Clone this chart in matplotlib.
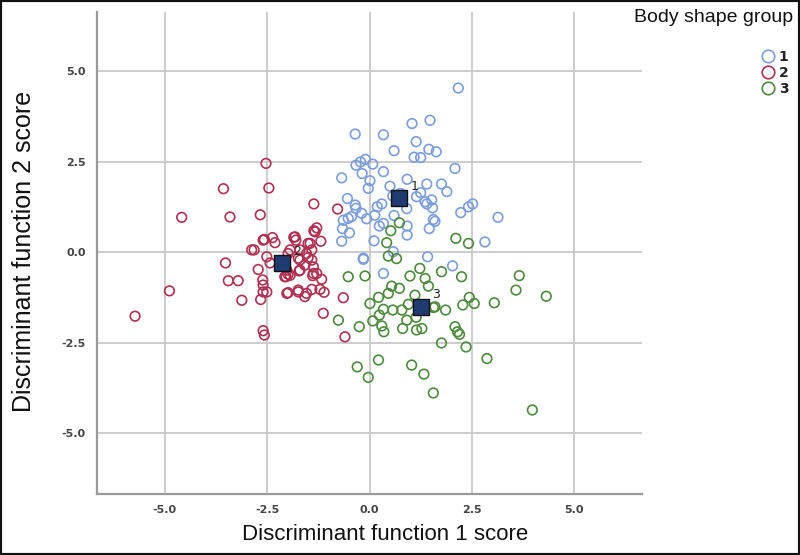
import matplotlib
matplotlib.use("Agg")
import matplotlib.pyplot as plt
from matplotlib.patches import Rectangle
from matplotlib.lines import Line2D

# discriminant scores
g1_x = [2.17, 1.04, 1.48, -0.35, 0.34, 1.14, 0.60, 1.45, 1.63, 1.09, 1.25, -0.33, -0.22, -0.10,
        0.08, -0.18, 0.34, 2.09, -0.68, 0.01, -0.03, 0.50, 0.92, 1.40, 1.76, 1.89, -0.54, -0.35,
        -0.33, 0.19, 0.30, -0.19, -0.44, -0.52, -0.64, -0.07, 0.13, 0.57, 0.75, 1.15, 1.25, 1.36,
        1.52, 1.40, 1.54, 0.91, 0.60, 1.56, 1.60, 2.23, 2.42, 2.52, 3.14, 0.24, 0.34, 0.92, 1.46,
        -0.66, -0.49, -0.68, 0.11, 0.92, 2.82, -0.15, 1.42, 0.58, 0.34, 2.03, -0.15]
g1_y = [4.53, 3.55, 3.64, 3.26, 3.24, 3.05, 2.80, 2.84, 2.77, 2.62, 2.61, 2.40, 2.49, 2.56,
        2.43, 2.17, 2.22, 2.31, 2.05, 1.97, 1.76, 1.82, 2.01, 1.88, 1.88, 1.67, 1.48, 1.30,
        1.21, 1.25, 1.33, 1.07, 0.98, 0.93, 0.88, 0.92, 1.02, 1.55, 1.62, 1.53, 1.64, 1.39,
        1.44, 1.33, 1.22, 1.20, 1.01, 0.90, 0.85, 1.09, 1.25, 1.33, 0.96, 0.72, 0.79, 0.72, 0.65,
        0.65, 0.53, 0.30, 0.31, 0.47, 0.28, -0.17, -0.13, 0.01, -0.59, -0.38, -0.20]

g2_x = [-2.53, -3.57, -2.46, -4.59, -3.41, -2.67, -1.36, -0.78, -1.36, -1.29, -2.57, -2.37,
        -2.31, -1.85, -1.80, -1.50, -1.19, -2.88, -2.82, -2.51, -2.43, -1.94, -1.74, -1.50,
        -1.41, -1.58, -1.37, -3.52, -2.72, -2.04, -1.99, -1.72, -1.39, -1.29, -1.17, -3.45,
        -3.21, -2.61, -2.60, -2.60, -2.66, -3.12, -4.89, -2.02, -1.74, -1.58, -1.41, -1.21,
        -1.11, -0.64, -1.13, -5.73, -2.60, -2.57, -0.60, -2.60, -1.82, -1.45, -1.33, -1.99,
        -1.70, -1.70, -1.54, -1.41, -2.02, -1.94, -1.70, -1.37, -2.07, -2.51, -1.99, -1.74, -1.54]
g2_y = [2.45, 1.75, 1.77, 0.96, 0.97, 1.03, 1.33, 1.19, 0.59, 0.67, 0.35, 0.40,
        0.26, 0.41, 0.33, 0.24, 0.30, 0.06, 0.06, -0.13, -0.30, 0.06, -0.17, -0.15,
        0.06, -0.36, -0.41, -0.30, -0.48, -0.68, -0.61, -0.52, -0.65, -0.59, -0.75, -0.79,
        -0.79, -0.77, -0.91, -1.10, -1.31, -1.33, -1.07, -1.14, -1.10, -1.23, -1.03, -1.03,
        -1.11, -1.26, -1.69, -1.77, -2.17, -2.29, -2.34, 0.33, 0.42, 0.24, 0.56, -0.04,
        0.06, -0.22, -0.04, -0.22, -0.50, -0.64, -0.50, -0.59, -0.68, -1.10, -1.12, -1.05, -1.14]

g3_x = [2.11, 2.42, 0.73, 0.52, 0.42, 0.46, 0.66, -0.52, -0.11, 0.99, 1.23, 1.76, 2.25, 1.36,
        1.44, 0.54, 0.73, 0.46, 0.22, 0.01, 1.11, 1.60, 1.86, 2.28, 2.44, 2.56, 3.05, 3.66, 3.58,
        4.32, 0.34, 0.57, 0.79, 0.95, 0.24, 0.08, 0.30, 0.35, -0.25, -0.76, 0.81, 0.91, 1.14, 1.15,
        1.28, 2.09, 2.15, 2.20, 1.76, 2.36, 2.87, 0.22, -0.30, -0.03, 1.03, 1.33, 1.56, 3.98, 1.56]
g3_y = [0.38, 0.24, 0.81, 0.59, 0.26, -0.11, -0.18, -0.68, -0.66, -0.66, -0.45, -0.54, -0.68,
        -0.73, -0.94, -0.94, -1.00, -1.14, -1.25, -1.42, -1.19, -1.51, -1.60, -1.46, -1.25, -1.42,
        -1.40, -0.65, -1.05, -1.22, -1.58, -1.60, -1.60, -1.44, -1.74, -1.90, -2.04, -2.20, -2.06,
        -1.88, -2.11, -1.88, -1.80, -2.15, -2.11, -2.06, -2.20, -2.27, -2.51, -2.62, -2.94, -2.98,
        -3.17, -3.46, -3.12, -3.37, -3.89, -4.36, -1.53]

centroid_x = [0.73, -2.15, 1.25]
centroid_y = [1.48, -0.30, -1.51]
groups = ["1", "2", "3"]
colors = ["#7c9ddc", "#b03050", "#4d8a3e"]

fig = plt.figure(figsize=(8, 5.55), dpi=100)
ax = fig.add_axes([97 / 800, 61 / 555, 545 / 800, 482 / 555])

for xs, ys, c in zip([g1_x, g2_x, g3_x], [g1_y, g2_y, g3_y], colors):
    ax.scatter(xs, ys, s=48, facecolors="none", edgecolors=c, linewidths=1.2, zorder=3)

ax.scatter(centroid_x, centroid_y, s=135, marker="s", color="#1f3b70",
           edgecolors="#111111", linewidths=1.0, zorder=5)
for cx, cy, g in zip(centroid_x, centroid_y, groups):
    ax.annotate(g, (cx, cy), xytext=(8, 6), textcoords="offset points",
                fontsize=9, color="#222222", zorder=6)

ax.set_xlim(-6.66, 6.66)
ax.set_ylim(-6.68, 6.63)
ax.set_xticks([-5.0, -2.5, 0.0, 2.5, 5.0])
ax.set_yticks([-5.0, -2.5, 0.0, 2.5, 5.0])
ax.set_xticklabels(["-5.0", "-2.5", "0.0", "2.5", "5.0"])
ax.set_yticklabels(["-5.0", "-2.5", "0.0", "2.5", "5.0"])
ax.tick_params(length=0, labelsize=8, labelcolor="#444444", pad=8)
for lab in ax.get_xticklabels() + ax.get_yticklabels():
    lab.set_fontweight("bold")
ax.grid(True, color="#c8c8c8", linewidth=1.3)
ax.set_axisbelow(True)
for side in ["top", "right"]:
    ax.spines[side].set_visible(False)
for side in ["left", "bottom"]:
    ax.spines[side].set_color("#9a9a9a")
    ax.spines[side].set_linewidth(1.6)

fig.text(385 / 800, 1 - 535 / 555, "Discriminant function 1 score", ha="center", va="center",
         fontsize=16, family=["Liberation Sans", "DejaVu Sans"], color="#111111")
fig.text(24 / 800, 1 - 251 / 555, "Discriminant function 2 score", ha="center", va="center",
         rotation=90, fontsize=18, family=["Liberation Sans", "DejaVu Sans"], color="#111111")

fig.text(793 / 800, 1 - 18 / 555, "Body shape group", ha="right", va="center",
         fontsize=14, family=["Liberation Sans", "DejaVu Sans"], color="#111111")
handles = [Line2D([], [], marker="o", linestyle="none", markersize=9, markerfacecolor="none",
                  markeredgecolor=c, markeredgewidth=1.2) for c in colors]
leg = fig.legend(handles, groups, loc="upper right", bbox_to_anchor=(794 / 800, 1 - 44 / 555),
                 frameon=False, handlelength=0.8, handletextpad=0.4, labelspacing=0.15,
                 fontsize=10, borderaxespad=0)
for t in leg.get_texts():
    t.set_fontweight("bold")
    t.set_color("#222222")

fig.patches.append(Rectangle((0, 0), 1, 1, transform=fig.transFigure, fill=False,
                             edgecolor="#111111", linewidth=3))

fig.savefig("out.png", dpi=100)
